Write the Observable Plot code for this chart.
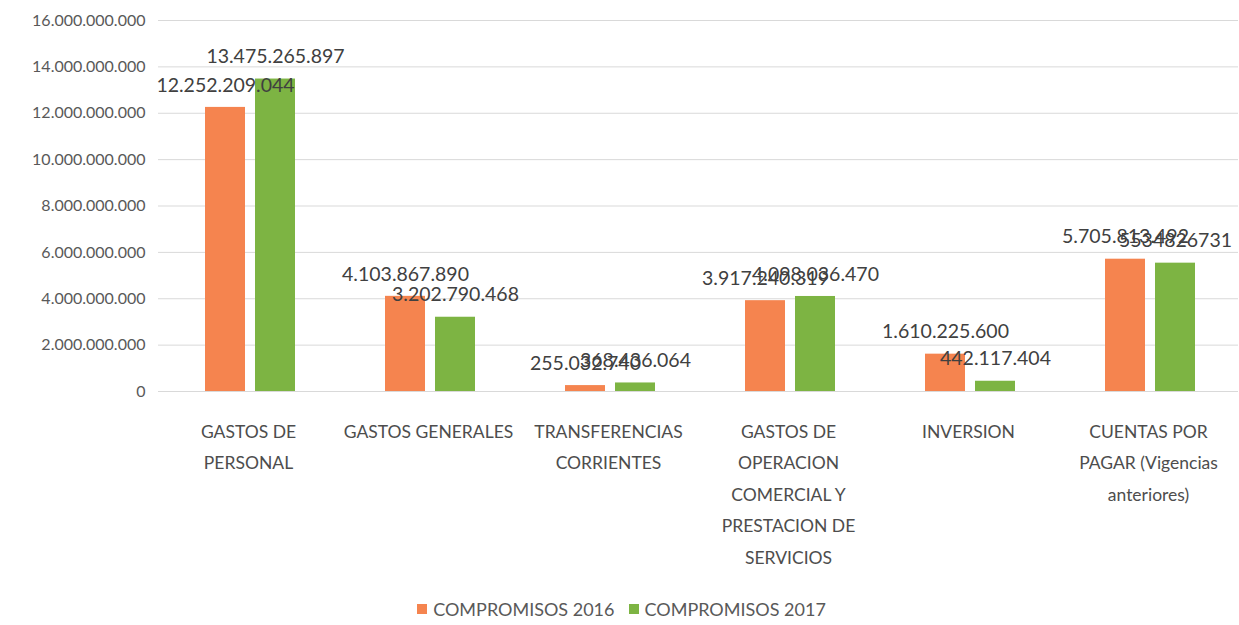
<!DOCTYPE html>
<html>
<head>
<meta charset="utf-8">
<script src="https://cdn.jsdelivr.net/npm/d3@7"></script>
<script src="https://cdn.jsdelivr.net/npm/@observablehq/plot@0.6"></script>
<style>
  html, body { margin: 0; padding: 0; background: #ffffff; }
  body { width: 1239px; height: 625px; overflow: hidden; font-family: Lato, "Open Sans", sans-serif; }
  #legend { position: relative; height: 33px; display: flex; justify-content: center; align-items: center; gap: 14px; font-size: 18px; color: #595959; padding-left: 4px; }
  .item { display: flex; align-items: center; gap: 6px; }
  .sw { width: 10px; height: 10px; display: inline-block; }
</style>
</head>
<body>
<div id="chart"></div>
<div id="legend"></div>
<script>
const categories = [
  "GASTOS DE PERSONAL",
  "GASTOS GENERALES",
  "TRANSFERENCIAS CORRIENTES",
  "GASTOS DE OPERACION COMERCIAL Y PRESTACION DE SERVICIOS",
  "INVERSION",
  "CUENTAS POR PAGAR (Vigencias anteriores)"
];
const categoryLabels = [
  "GASTOS DE\nPERSONAL",
  "GASTOS GENERALES",
  "TRANSFERENCIAS\nCORRIENTES",
  "GASTOS DE\nOPERACION\nCOMERCIAL Y\nPRESTACION DE\nSERVICIOS",
  "INVERSION",
  "CUENTAS POR\nPAGAR (Vigencias\nanteriores)"
];
const series = ["COMPROMISOS 2016", "COMPROMISOS 2017"];
const values2016 = [12252209044, 4103867890, 255032740, 3917240319, 1610225600, 5705813492];
const values2017 = [13475265897, 3202790468, 368436064, 4098036470, 442117404, 5534826731];
const labels2016 = ["12.252.209.044", "4.103.867.890", "255.032.740", "3.917.240.319", "1.610.225.600", "5.705.813.492"];
const labels2017 = ["13.475.265.897", "3.202.790.468", "368.436.064", "4.098.036.470", "442.117.404", "5534826731"];
const yTicks = [0, 2e9, 4e9, 6e9, 8e9, 10e9, 12e9, 14e9, 16e9];
const colors = ["#F5844F", "#7DB443"];

const fmt = d3.formatLocale({decimal: ",", thousands: ".", grouping: [3], currency: ["", ""]}).format(",d");

const data = categories.flatMap((c, i) => [
  {category: c, series: series[0], value: values2016[i], label: labels2016[i]},
  {category: c, series: series[1], value: values2017[i], label: labels2017[i]}
]);

const chart = Plot.plot({
  width: 1239,
  height: 592,
  marginLeft: 158,
  marginRight: 1,
  marginTop: 20,
  marginBottom: 201,
  style: {fontFamily: "Lato, 'Open Sans', sans-serif", background: "transparent", overflow: "visible"},
  fx: {domain: categories, padding: 0, label: null},
  x: {domain: series, paddingInner: 0.2, paddingOuter: 0.9, axis: null},
  y: {domain: [0, 16e9], label: null},
  color: {domain: series, range: colors},
  marks: [
    Plot.gridY(yTicks, {stroke: "#d9d9d9", strokeOpacity: 1, strokeWidth: 1}),
    Plot.axisY(yTicks, {tickSize: 0, tickPadding: 13, tickFormat: fmt, fontSize: 16, fill: "#595959", label: null}),
    Plot.axisFx({anchor: "bottom", tickSize: 0, tickPadding: 24, tickFormat: d => categoryLabels[categories.indexOf(d)], fontSize: 17.5, lineHeight: 1.8, fill: "#4d4d4d", label: null}),
    Plot.barY(data, {fx: "category", x: "series", y: "value", fill: "series", dx: 2}),
    Plot.text(data, {fx: "category", x: "series", y: "value", text: "label", dy: -22, dx: 2, fontSize: 19.5, fill: "#404040"})
  ]
});
document.getElementById("chart").appendChild(chart);

const legend = document.getElementById("legend");
series.forEach((s, i) => {
  const item = document.createElement("div");
  item.className = "item";
  const sw = document.createElement("span");
  sw.className = "sw";
  sw.style.background = colors[i];
  const t = document.createElement("span");
  t.textContent = s;
  item.appendChild(sw);
  item.appendChild(t);
  legend.appendChild(item);
});
</script>
</body>
</html>
